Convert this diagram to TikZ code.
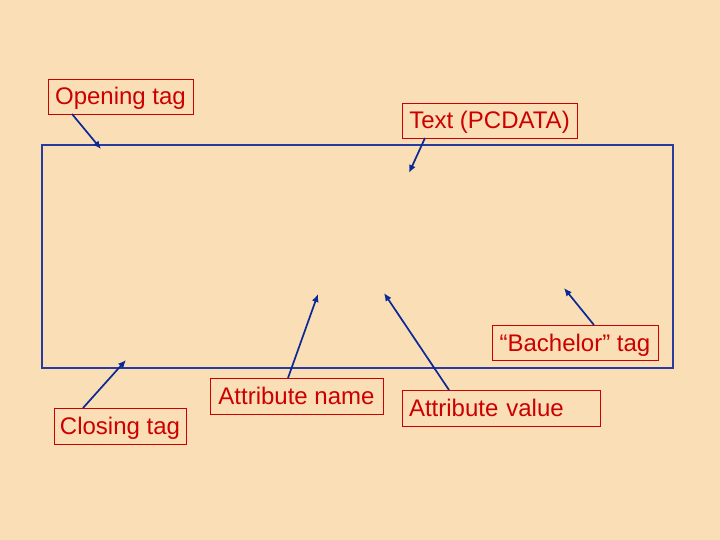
\documentclass[tikz,border=0pt]{standalone}
\usepackage{fontspec}
\setmainfont{Liberation Sans}
\usetikzlibrary{arrows.meta}
\definecolor{peach}{RGB}{250,222,182}
\definecolor{tagred}{RGB}{204,0,0}
\definecolor{frameblue}{RGB}{40,60,160}
\definecolor{arrowblue}{RGB}{10,40,150}
\begin{document}
\begin{tikzpicture}[y=-1pt, x=1pt, inner sep=0pt, outer sep=0pt,
  label/.style={draw=tagred, text=tagred, line width=0.9pt, anchor=north west,
    minimum height=35pt, text height=21pt, text depth=4pt,
    font=\fontsize{24}{28}\selectfont},
  pointer/.style={draw=arrowblue, line width=1.7pt, -{Latex[length=8pt,width=7pt]}}]
\path[fill=peach] (0,0) rectangle (720,540);
\useasboundingbox (0,0) rectangle (720,540);
\path[draw=frameblue, line width=1.1pt] (42,145) rectangle (673,368);
\node[label, minimum width=145pt] (open) at (48,79) {Opening tag};
\node[label, minimum width=175pt] (pcdata) at (402,103) {Text (PCDATA)};
\node[label, minimum width=166pt] (bach) at (492,325) {“Bachelor” tag};
\node[label, minimum width=173pt, minimum height=36pt] (aname) at (210,378) {Attribute name};
\node[label, text width=184pt, inner xsep=7pt, minimum height=36pt, align=left] (aval) at (402,390) {Attribute value};
\node[label, minimum width=132pt, minimum height=36pt] (close) at (54,408) {Closing tag};
\coordinate (opentip) at (101,149);
\coordinate (pcdatatip) at (409,173);
\coordinate (bachtip) at (564,288);
\coordinate (avaltip) at (384,293);
\coordinate (anametip) at (318,294);
\coordinate (closetip) at (126,360);
\draw[pointer] (open.south west) ++(24,0) -- (opentip);
\draw[pointer] (pcdata.south west) ++(23,0) -- (pcdatatip);
\draw[pointer] (bach.north west) ++(102,0) -- (bachtip);
\draw[pointer] (aval.north west) ++(47,0) -- (avaltip);
\draw[pointer] (aname.north west) ++(78,0) -- (anametip);
\draw[pointer] (close.north west) ++(29,0) -- (closetip);
\end{tikzpicture}
\end{document}
